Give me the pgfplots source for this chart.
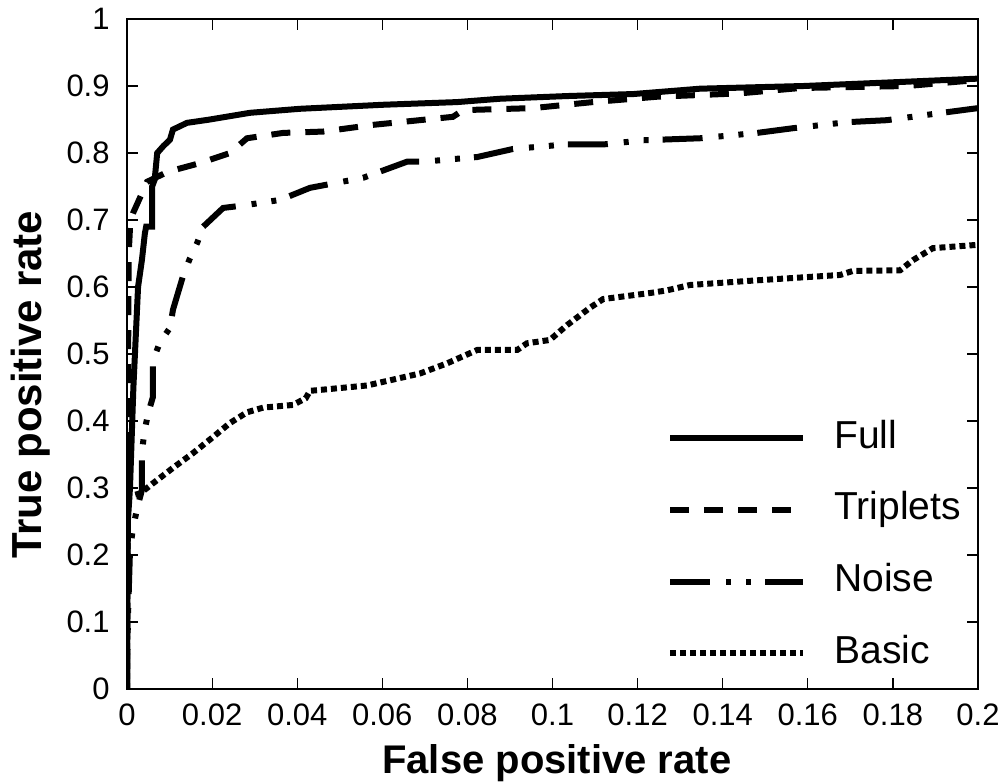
\documentclass[border=0pt]{standalone}
\usepackage{fontspec}
\setmainfont{Liberation Sans}
\usepackage{pgfplots}
\pgfplotsset{compat=1.18}
\begin{document}
\begin{tikzpicture}
\begin{axis}[
  scale only axis, width=425.5pt, height=335pt,
  xmin=0, xmax=0.2, ymin=0, ymax=1,
  xtick={0,0.02,0.04,0.06,0.08,0.1,0.12,0.14,0.16,0.18,0.2},
  xticklabels={0,0.02,0.04,0.06,0.08,0.1,0.12,0.14,0.16,0.18,0.2},
  ytick={0,0.1,0.2,0.3,0.4,0.5,0.6,0.7,0.8,0.9,1},
  yticklabels={0,0.1,0.2,0.3,0.4,0.5,0.6,0.7,0.8,0.9,1},
  tick align=inside, major tick length=5.5pt,
  axis line style={line width=0.8pt},
  every tick/.style={line width=0.6pt, black},
  /pgf/number format/assume math mode=true,
  tick label style={font=\fontsize{15.5}{18}\selectfont},
  yticklabel style={inner sep=0pt, xshift=-8.5pt},
  xticklabel style={inner sep=0pt, yshift=-7pt},
  xlabel={\bfseries False positive rate},
  ylabel={\bfseries True positive rate},
  xlabel style={font=\fontsize{20}{24}\selectfont, at={([yshift=-42pt]axis description cs:0.505,0)}, anchor=base, inner sep=0pt},
  ylabel style={font=\fontsize{21}{25}\selectfont, at={([xshift=-42.5pt]axis description cs:0,0.454)}, anchor=base, inner sep=0pt},
  legend style={draw=none, fill=none, at={(axis description cs:0.6345,0.026)}, anchor=south west,
    inner sep=0pt, row sep=17.8pt, column sep=14pt, font=\fontsize{19.5}{23}\selectfont,
    nodes={inner sep=0pt, text height=14pt, text depth=4pt, anchor=west}},
  legend cell align=left,
  legend image code/.code={\draw[#1, line cap=butt] (0pt,0pt) -- (66.5pt,0pt);},
  every axis plot/.append style={black, line width=3pt, line cap=butt},
]
% Full
\addplot[solid] coordinates {
(0,0) (0.0002,0.25) (0.0007,0.30) (0.0015,0.45) (0.0026,0.60) (0.0035,0.64) (0.0042,0.68)
(0.0045,0.69) (0.0059,0.69) (0.0059,0.75) (0.0065,0.76) (0.0071,0.80) (0.0085,0.81)
(0.0101,0.82) (0.0108,0.835) (0.0141,0.845) (0.0195,0.850) (0.0289,0.860) (0.0407,0.866)
(0.0602,0.872) (0.0776,0.876) (0.0877,0.881) (0.1034,0.885) (0.119,0.888) (0.1347,0.896)
(0.159,0.900) (0.1817,0.906) (0.2,0.911)};
\addlegendentry{Full}
% Triplets
\addplot[dash pattern=on 9.5pt off 7.5pt] coordinates {
(0,0) (0.0001,0.3) (0.0004,0.65) (0.0008,0.70) (0.0014,0.71) (0.0031,0.734) (0.0047,0.757)
(0.0096,0.772) (0.0172,0.785) (0.0242,0.80) (0.0282,0.822) (0.0367,0.83) (0.0461,0.832)
(0.0578,0.842) (0.0766,0.854) (0.079,0.864) (0.0954,0.867) (0.1095,0.876) (0.1246,0.884)
(0.144,0.889) (0.1582,0.897) (0.1833,0.90) (0.2,0.909)};
\addlegendentry{Triplets}
% Noise
\addplot[dash pattern=on 20pt off 8pt on 2.5pt off 7.5pt on 2.5pt off 7pt] coordinates {
(0,0) (0.0002,0.1) (0.0007,0.207) (0.0014,0.24) (0.0024,0.27) (0.0035,0.297) (0.0035,0.352)
(0.0040,0.38) (0.0049,0.41) (0.0061,0.436) (0.0061,0.49) (0.0077,0.517) (0.0101,0.539)
(0.0108,0.566) (0.0131,0.615) (0.0148,0.643) (0.0165,0.666) (0.0179,0.69) (0.0226,0.718)
(0.0277,0.722) (0.0360,0.73) (0.0430,0.748) (0.0555,0.763) (0.0658,0.787) (0.0696,0.787)
(0.0823,0.794) (0.0907,0.806) (0.1034,0.813) (0.1123,0.813) (0.1213,0.819) (0.1347,0.822)
(0.1481,0.830) (0.1565,0.837) (0.1692,0.846) (0.1786,0.849) (0.1916,0.86) (0.2,0.867)};
\addlegendentry{Noise}
% Basic
\addplot[dash pattern=on 3pt off 2pt] coordinates {
(0,0) (0.0002,0.287) (0.0031,0.292) (0.0061,0.307) (0.0108,0.33) (0.0155,0.352) (0.0202,0.376)
(0.0242,0.397) (0.0282,0.413) (0.032,0.42) (0.039,0.424) (0.042,0.434) (0.043,0.445)
(0.0564,0.453) (0.0689,0.471) (0.0752,0.486) (0.0823,0.506) (0.0917,0.506) (0.094,0.516)
(0.0994,0.521) (0.1034,0.543) (0.1088,0.569) (0.1119,0.582) (0.1229,0.591) (0.1269,0.595)
(0.1323,0.603) (0.1481,0.61) (0.1676,0.618) (0.1706,0.624) (0.1817,0.625) (0.1847,0.64)
(0.1894,0.658) (0.2,0.663)};
\addlegendentry{Basic}
\end{axis}
\pgfresetboundingbox
\path[use as bounding box] (-63.5pt,-47pt) rectangle (438.5pt,344.5pt);
\end{tikzpicture}
\end{document}
